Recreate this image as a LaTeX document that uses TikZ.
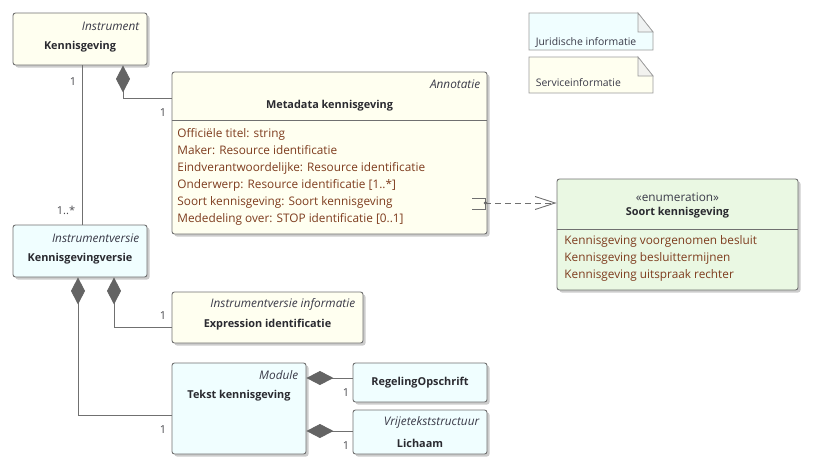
\documentclass[tikz,border=0pt]{standalone}
\usepackage{fontspec}
\setmainfont{Open Sans}
\usetikzlibrary{arrows.meta,shadows,positioning}
\definecolor{lijn}{HTML}{707070}
\definecolor{ruit}{HTML}{646464}
\definecolor{geelvl}{HTML}{FFFFF0}
\definecolor{cyaanvl}{HTML}{F0FEFF}
\definecolor{groenvl}{HTML}{EAF8E3}
\definecolor{attr}{HTML}{7E3C1E}
\definecolor{naam}{HTML}{2A2A30}
\definecolor{stereo}{HTML}{3A3A48}
\tikzset{box/.style={draw=lijn,rounded corners=2.5pt,inner sep=0pt,
    drop shadow={shadow xshift=2.5pt,shadow yshift=-2.5pt,fill=black!40,opacity=.5}}}
\tikzset{geel/.style={box,fill=geelvl}}
\tikzset{cyaan/.style={box,fill=cyaanvl}}
\tikzset{groen/.style={box,fill=groenvl}}
\tikzset{naam/.style={font=\fontsize{10.9}{13}\selectfont\bfseries,text=naam}}
\tikzset{stereo/.style={font=\fontsize{11.8}{13}\selectfont\itshape,text=stereo,anchor=east}}
\tikzset{attrs/.style={font=\fontsize{11.8}{17}\selectfont,text=attr,align=left,anchor=north west,inner sep=0pt}}
\tikzset{mult/.style={font=\fontsize{11}{13}\selectfont,text=naam!85}}
\tikzset{comp/.style={draw=lijn,{Diamond[length=27pt,width=14pt,fill=ruit,color=ruit]}-}}
\tikzset{notitie/.style={draw=lijn!70,line width=0.7pt}}
\tikzset{notetekst/.style={font=\fontsize{10.4}{12}\selectfont,text=stereo,anchor=west}}

\begin{document}
\begin{tikzpicture}[x=1pt,y=-1pt,line width=0.9pt]
        \useasboundingbox (0,0) rectangle (818,471);
        % legenda
        \draw[notitie,fill=cyaanvl] (529,13) -- (638,13) -- (653,32) -- (653,50) -- (529,50) -- cycle;
        \draw[notitie,fill=cyaanvl!80!black!25] (638,13) -- (638,32) -- (653,32) -- cycle;
        \node[notetekst](jur) at (532,42){Juridische informatie};
        \draw[notitie,fill=geelvl] (529,57) -- (638,57) -- (653,76) -- (653,93) -- (529,93) -- cycle;
        \draw[notitie,fill=geelvl!80!black!25] (638,57) -- (638,76) -- (653,76) -- cycle;
        \node[notetekst](serv) at (532,83){Serviceinformatie};

        % klassen
        \node[geel,minimum width=134pt,minimum height=52pt](kg) at (80,39){};
        \node[stereo](kgS) at (143,26){Instrument};
        \node[naam](kgN) at (80,47){Kennisgeving};

        \node[geel,minimum width=315pt,minimum height=162pt](meta) at (329.5,153){};
        \node[stereo](metaS) at (484,84){Annotatie};
        \node[naam](metaN) at (329.5,106){Metadata kennisgeving};
        \draw[lijn] ([yshift=-49]meta.north west) -- ([yshift=-49]meta.north east);
        \node[attrs](metaA) at (177,128.5){Officiële titel: string\\Maker: Resource identificatie\\
          Eindverantwoordelijke: Resource identificatie\\Onderwerp: Resource identificatie [1..*]\\
          Soort kennisgeving: Soort kennisgeving\\Mededeling over: STOP identificatie [0..1]};

        \node[groen,minimum width=241pt,minimum height=111pt](soort) at (677.5,234.5){};
        \node[font=\fontsize{11.8}{13}\selectfont,text=stereo](soortS) at (677.5,197){«enumeration»};
        \node[naam](soortN) at (677.5,213){Soort kennisgeving};
        \draw[lijn] ([yshift=-51]soort.north west) -- ([yshift=-51]soort.north east);
        \node[attrs](soortA) at (564,235.5){Kennisgeving voorgenomen besluit\\
          Kennisgeving besluittermijnen\\Kennisgeving uitspraak rechter};

        \node[cyaan,minimum width=134pt,minimum height=52pt](kgv) at (80,251){};
        \node[stereo](kgvS) at (143,238){Instrumentversie};
        \node[naam](kgvN) at (80,259){Kennisgevingversie};

        \node[geel,minimum width=191pt,minimum height=51pt](expr) at (267.5,317.5){};
        \node[stereo](exprS) at (359,304){Instrumentversie informatie};
        \node[naam](exprN) at (267.5,325){Expression identificatie};

        \node[cyaan,minimum width=134pt,minimum height=91pt](tekst) at (239,408.5){};
        \node[stereo](tekstS) at (302,375){Module};
        \node[naam](tekstN) at (239,396){Tekst kennisgeving};

        \node[cyaan,minimum width=134pt,minimum height=39pt](regel) at (420,382.5){};
        \node[naam](regelN) at (420,383){RegelingOpschrift};

        \node[cyaan,minimum width=134pt,minimum height=44pt](lich) at (420,432){};
        \node[stereo](lichS) at (483,422){Vrijetekststructuur};
        \node[naam](lichN) at (420,443){Lichaam};

        % verbindingen
        \draw[lijn] ([xshift=2]kg.south) -- ([xshift=2]kgv.north);
        \node[mult](m1) at (73,82){1};
        \node[mult](m2) at (66,210){1..*};
        \draw[comp] ([xshift=43]kg.south) |- ([yshift=55]meta.west);
        \node[mult](m3) at (163,113){1};
        \draw[comp] ([xshift=-2]kgv.south) |- ([yshift=-6.5]tekst.west);
        \node[mult](m4) at (163,430){1};
        \draw[comp] ([xshift=34]kgv.south) |- ([yshift=-9.5]expr.west);
        \node[mult](m5) at (163,316){1};
        \draw[comp] ([yshift=30.5]tekst.east) -- ([yshift=4.5]regel.west);
        \node[mult](m6) at (346,393){1};
        \draw[comp] ([yshift=-22.5]tekst.east) -- ([yshift=1]lich.west);
        \node[mult](m7) at (346,446){1};

        % afhankelijkheid
        \draw[lijn] ([xshift=-15,yshift=-45]meta.east) -| ([xshift=-2,yshift=-56]meta.east) -- ++(-13,0);
        \fill[ruit] ([xshift=-2,yshift=-50]meta.east) circle (1.8);
        \draw[lijn,dash pattern=on 6pt off 4pt,-{Straight Barb[length=20pt,width=13pt]}]
          ([xshift=-2,yshift=-50]meta.east) -- ([yshift=31.5]soort.west);
      \end{tikzpicture}
\end{document}
